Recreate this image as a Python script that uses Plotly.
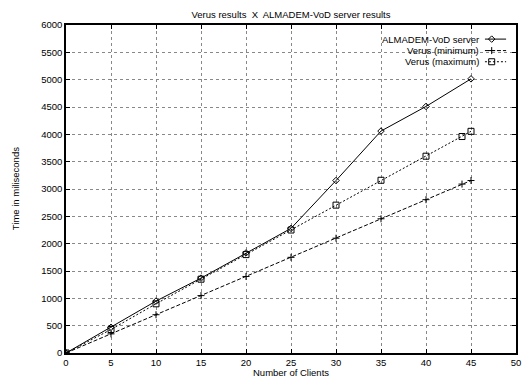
import plotly.graph_objects as go

clients = [0, 5, 10, 15, 20, 25, 30, 35, 40, 45]
almadem = [0, 470, 950, 1370, 1830, 2280, 3155, 4060, 4510, 5015]
verus_clients = [0, 5, 10, 15, 20, 25, 30, 35, 40, 44, 45]
verus_min = [0, 350, 700, 1050, 1400, 1750, 2100, 2455, 2805, 3090, 3155]
verus_max = [0, 430, 900, 1350, 1800, 2250, 2705, 3160, 3600, 3960, 4055]

series_names = ["ALMADEM-VoD server", "Verus (minimum)", "Verus (maximum)"]
title_text = "Verus results  X  ALMADEM-VoD server results"
x_label = "Number of Clients"
y_label = "Time in miliseconds"

FONT = "Liberation Sans, Arial, sans-serif"
fs = 9.5

styles = [
    dict(dash="solid", symbol="diamond-open", size=5),
    dict(dash="4px,2px", symbol="cross-thin-open", size=5),
    dict(dash="2px,2px", symbol="square-open", size=6),
]

fig = go.Figure()
data = [(clients, almadem), (verus_clients, verus_min), (verus_clients, verus_max)]
for (xs, ys), st, nm in zip(data, styles, series_names):
    fig.add_trace(go.Scatter(
        x=xs, y=ys, mode="lines+markers", name=nm, showlegend=False,
        line=dict(color="black", width=1, dash=st["dash"]),
        marker=dict(symbol=st["symbol"], size=st["size"], color="black",
                    line=dict(color="black", width=1)),
    ))

# custom gnuplot-style key (text left, sample right) on an auxiliary axis
row_y = [0.957, 0.922, 0.888]
for st, nm, ry in zip(styles, series_names, row_y):
    fig.add_trace(go.Scatter(
        x=[0.931, 0.978], y=[ry, ry], mode="lines", xaxis="x2", yaxis="y2",
        line=dict(color="black", width=1, dash=st["dash"]), showlegend=False, hoverinfo="skip",
    ))
    fig.add_trace(go.Scatter(
        x=[0.946], y=[ry], mode="markers", xaxis="x2", yaxis="y2",
        marker=dict(symbol=st["symbol"], size=st["size"], color="black",
                    line=dict(color="black", width=1)),
        showlegend=False, hoverinfo="skip",
    ))
    fig.add_annotation(x=0.923, y=ry, xref="paper", yref="paper", text=nm,
                       showarrow=False, xanchor="right", yanchor="middle",
                       font=dict(family=FONT, size=fs, color="black"))

axis_common = dict(
    showgrid=True, gridcolor="#888888", griddash="dot", gridwidth=1,
    zeroline=False, showline=True, linecolor="black", linewidth=1.5, mirror="ticks",
    ticks="inside", ticklen=4, tickcolor="black", tickwidth=1, automargin=False,
    tickfont=dict(family=FONT, size=fs, color="black"),
)

fig.update_layout(
    width=523, height=376,
    margin=dict(l=66, r=7, t=25, b=23),
    paper_bgcolor="white", plot_bgcolor="white",
    showlegend=False,
    title=dict(text=title_text, x=0.5, xanchor="center", y=0.962, yanchor="middle",
               xref="paper",
               font=dict(family=FONT, size=fs, color="black")),
    xaxis=dict(range=[0, 50], dtick=5, **axis_common),
    yaxis=dict(range=[0, 6000], dtick=500, **axis_common),
    xaxis2=dict(range=[0, 1], overlaying="x", visible=False, fixedrange=True),
    yaxis2=dict(range=[0, 1], overlaying="y", visible=False, fixedrange=True),
)

fig.add_annotation(x=0.5, y=0, xref="paper", yref="paper", text=x_label, showarrow=False,
                   yanchor="top", yshift=-12, font=dict(family=FONT, size=fs, color="black"))
fig.add_annotation(x=-0.113, y=0.5, xref="paper", yref="paper", text=y_label, showarrow=False,
                   textangle=-90, xanchor="center", yanchor="middle",
                   font=dict(family=FONT, size=fs, color="black"))

fig.write_html("out.html", config={"displayModeBar": False},
               post_script="document.body.style.margin='0px';document.body.style.overflow='hidden';")
